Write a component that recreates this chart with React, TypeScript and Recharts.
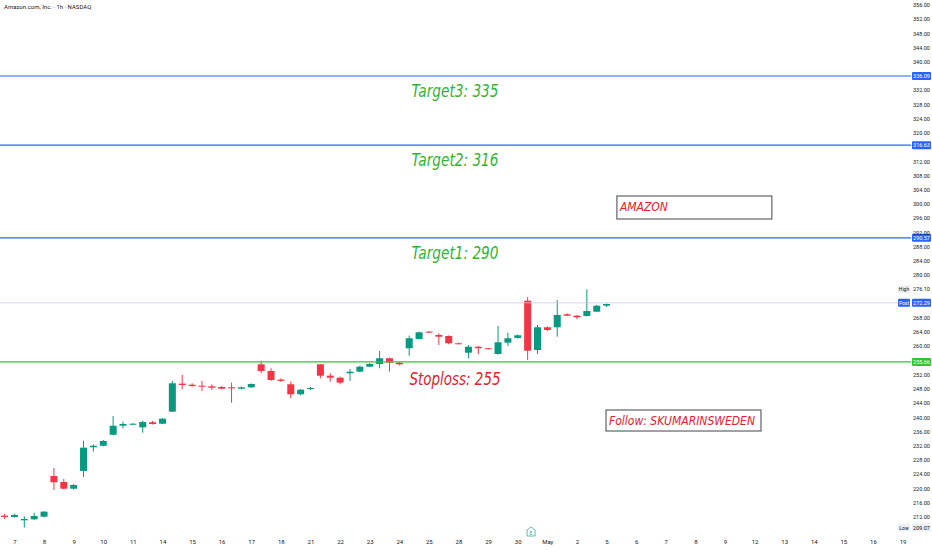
import React from 'react';
import {
  ComposedChart,
  Bar,
  XAxis,
  YAxis,
  ReferenceLine,
  ReferenceDot,
  ReferenceArea,
} from 'recharts';

// hourly candles
const opens = [
  212.41, 212.04, 211.11, 211.39, 212.13, 223.58, 221.89, 220.0, 225.0, 231.65,
  232.09, 235.17, 237.72, 238.0, 237.26, 238.69, 238.28, 241.67, 249.55, 249.26,
  248.98, 248.81, 248.61, 248.52, 248.13, 248.52, 255.0, 253.12, 250.68, 249.38,
  246.56, 248.04, 255.0, 251.79, 251.22, 252.48, 252.92, 254.33, 255.09, 256.7,
  255.46, 259.51, 262.12, 264.17, 263.24, 262.96, 260.91, 258.25, 259.93, 259.51,
  257.89, 261.08, 262.41, 272.89, 259.02, 265.41, 265.41, 269.07, 268.67, 268.58,
  269.79, 271.48,
];
const highs = [
  212.89, 213.0, 212.24, 213.25, 213.73, 225.83, 222.75, 221.32, 233.5, 232.49,
  233.7, 240.44, 238.85, 238.45, 239.14, 239.05, 239.85, 250.32, 252.0, 249.65,
  250.32, 249.35, 248.95, 249.83, 248.75, 249.6, 256.02, 253.88, 251.04, 250.12,
  248.05, 248.6, 255.09, 252.48, 251.52, 253.68, 254.6, 255.39, 258.75, 256.88,
  255.69, 263.05, 264.2, 264.4, 263.71, 263.11, 261.08, 260.43, 260.13, 259.65,
  265.77, 263.9, 263.41, 273.86, 266.05, 265.68, 273.09, 269.35, 268.85, 276.1,
  271.73, 272.1,
];
const lows = [
  211.48, 211.91, 209.07, 211.22, 211.91, 219.63, 219.83, 219.73, 223.3, 230.4,
  231.91, 234.97, 236.98, 237.85, 235.75, 238.05, 238.15, 241.58, 247.96, 248.65,
  247.48, 247.76, 247.95, 244.18, 247.95, 248.4, 252.48, 250.34, 250.05, 245.43,
  246.28, 247.75, 251.05, 250.12, 249.38, 250.32, 252.72, 254.2, 253.88, 252.92,
  254.69, 257.41, 262.02, 263.8, 260.43, 260.63, 260.63, 256.67, 257.8, 259.15,
  257.75, 260.14, 262.22, 256.2, 257.89, 264.3, 262.76, 268.55, 267.66, 268.45,
  269.64, 271.12,
];
const closes = [
  212.04, 212.61, 211.48, 212.32, 213.54, 221.81, 220.0, 221.04, 231.54, 232.09,
  233.42, 237.72, 238.2, 238.28, 238.77, 238.2, 239.7, 249.66, 249.18, 248.9,
  248.69, 248.41, 248.13, 248.33, 248.52, 249.46, 253.12, 250.59, 250.32, 246.56,
  247.86, 248.33, 251.79, 251.22, 249.83, 252.92, 254.33, 255.09, 256.7, 255.46,
  255.0, 262.32, 264.0, 264.0, 262.76, 260.91, 260.83, 259.93, 259.51, 259.45,
  261.19, 262.32, 263.16, 258.82, 265.41, 264.65, 268.87, 268.67, 268.22, 269.99,
  271.48, 271.96,
];

const dayLabels = [
  '7', '8', '9', '10', '11', '14', '15', '16', '17', '18', '21', '22', '23', '24', '25',
  '28', '29', '30', 'May', '2', '5', '6', '7', '8', '9', '12', '13', '14', '15', '16', '19',
];

const target3 = 336.09;
const target2 = 316.63;
const target1 = 290.57;
const stoploss = 255.66;
const postPrice = 272.29;
const highPrice = 276.1;
const lowPrice = 209.07;

const hiddenTicks = [256, 272, 276, 316, 336];
const priceTicks: number[] = [];
for (let v = 212; v <= 356; v += 4) if (!hiddenTicks.includes(v)) priceTicks.push(v);

const data = opens.map((o, i) => ({
  i,
  open: o,
  high: highs[i],
  low: lows[i],
  close: closes[i],
}));

const dayTicks = dayLabels.map((_, k) => 1 + 3 * k);

const UP = '#089981';
const DOWN = '#f23645';
const BLUE = '#2962ff';
const LINE_GREEN = '#36c236';
const TEXT_GREEN = '#2fb52f';
const TEXT_RED = '#e3212b';
const AXIS_FONT = "Roboto, 'Liberation Sans', sans-serif";
const NOTE_FONT = "'Liberation Sans Narrow', 'DejaVu Sans Condensed', 'Liberation Sans', sans-serif";

const Candle = (props: any) => {
  const { x, y, width, height, payload } = props;
  if (!payload) return null;
  const { open, close, high, low } = payload;
  const top = Math.min(y, y + height);
  const h = Math.abs(height);
  const k = h / (high - low);
  const color = close >= open ? UP : DOWN;
  const bodyTop = top + (high - Math.max(open, close)) * k;
  const bodyH = Math.max(1, Math.abs(close - open) * k);
  const cx = x + width / 2;
  return (
    <g>
      <line x1={cx} x2={cx} y1={top} y2={top + h} stroke={color} strokeWidth={1} />
      <rect x={x} y={bodyTop} width={width} height={bodyH} fill={color} />
    </g>
  );
};

// price tag drawn on the right scale, next to a reference line
const priceTag = (text: string, bg: string, fg: string, side?: string, sideBg?: string, sideFg?: string) =>
  (props: any) => {
    const vb = props.viewBox;
    if (!vb) return null;
    const right = vb.x + vb.width;
    const y = vb.y;
    return (
      <g>
        {side && (
          <g>
            <rect x={right - 13} y={y - 4} width={12} height={8} fill={sideBg} rx={1} />
            <text x={right - 7} y={y} fill={sideFg} fontSize={5} textAnchor="middle" dominantBaseline="central" fontFamily={AXIS_FONT}>
              {side}
            </text>
          </g>
        )}
        <rect x={right + 1} y={y - 4} width={19} height={8} fill={bg} rx={1} />
        <text x={right + 10.5} y={y} fill={fg} fontSize={5.5} textAnchor="middle" dominantBaseline="central" fontFamily={AXIS_FONT}>
          {text}
        </text>
      </g>
    );
  };

const noteText = (text: string, color: string, len: number) => (p: any) => (
  <text
    x={p.cx}
    y={p.cy}
    fill={color}
    fontSize={18}
    fontStyle="italic"
    textAnchor="middle"
    dominantBaseline="central"
    fontFamily={NOTE_FONT}
    textLength={len}
    lengthAdjust="spacingAndGlyphs"
  >
    {text}
  </text>
);

const noteBox = (text: string) => (p: any) => (
  <g>
    <rect x={p.x} y={p.y} width={p.width} height={p.height} fill="#ffffff" stroke="#6b6f76" strokeWidth={1.3} />
    <text
      x={p.x + 3}
      y={p.y + p.height / 2}
      fill={TEXT_RED}
      fontSize={12}
      fontStyle="italic"
      dominantBaseline="central"
      fontFamily={NOTE_FONT}
    >
      {text}
    </text>
  </g>
);

const EarningsIcon = (p: any) => (
  <g>
    <path
      d={`M${p.cx - 4},${p.cy - 2} L${p.cx},${p.cy - 5} L${p.cx + 4},${p.cy - 2} L${p.cx + 4},${p.cy + 4} L${p.cx - 4},${p.cy + 4} Z`}
      fill="#ffffff"
      stroke="#3fa889"
      strokeWidth={0.8}
    />
    <text x={p.cx} y={p.cy + 1} fontSize={5} fill="#3fa889" textAnchor="middle" dominantBaseline="central" fontFamily={AXIS_FONT}>
      E
    </text>
  </g>
);

const App: React.FC = () => {
  return (
    <div style={{ position: 'relative', width: 932, height: 550, background: '#ffffff' }}>
      <style>{`body{margin:0}`}</style>
      <div
        style={{
          position: 'absolute',
          left: 4,
          top: 3,
          fontSize: 6,
          fontFamily: AXIS_FONT,
          color: '#131722',
          zIndex: 2,
        }}
      >
        Amazon.com, Inc. · 1h · NASDAQ
      </div>
      <ComposedChart width={932} height={550} data={data} margin={{ top: 0, right: 0, bottom: 0, left: 0 }}>
        <XAxis
          dataKey="i"
          type="number"
          domain={[-0.507, 91.8]}
          allowDataOverflow
          ticks={dayTicks}
          interval={0}
          tickFormatter={(v: number) => dayLabels[(v - 1) / 3] ?? ''}
          height={17}
          axisLine={false}
          tickLine={false}
          tickSize={0}
          tickMargin={7}
          tick={{ fontSize: 6, fill: '#131722', fontFamily: AXIS_FONT }}
        />
        <YAxis
          orientation="right"
          type="number"
          domain={[207.54, 357.47]}
          allowDataOverflow
          ticks={priceTicks}
          interval={0}
          width={21}
          axisLine={false}
          tickLine={false}
          tickSize={0}
          tickMargin={2}
          tickFormatter={(v: number) => v.toFixed(2)}
          tick={{ fontSize: 5.5, fill: '#131722', fontFamily: AXIS_FONT }}
        />

        <ReferenceLine y={postPrice} stroke="#c9cde6" strokeWidth={0.8} label={priceTag(postPrice.toFixed(2), BLUE, '#ffffff', 'Post', BLUE, '#ffffff')} />
        <ReferenceLine y={highPrice} stroke="none" label={priceTag(highPrice.toFixed(2), '#ffffff', '#131722', 'High', '#eef0f3', '#131722')} />
        <ReferenceLine y={lowPrice} stroke="none" label={priceTag(lowPrice.toFixed(2), '#eef0f3', '#131722', 'Low', '#eef0f3', '#131722')} />
        <ReferenceLine y={target3} stroke={BLUE} strokeWidth={1.2} label={priceTag(target3.toFixed(2), BLUE, '#ffffff')} />
        <ReferenceLine y={target2} stroke={BLUE} strokeWidth={1.2} label={priceTag(target2.toFixed(2), BLUE, '#ffffff')} />
        <ReferenceLine y={target1} stroke={BLUE} strokeWidth={1.2} label={priceTag(target1.toFixed(2), BLUE, '#ffffff')} />
        <ReferenceLine y={stoploss} stroke={LINE_GREEN} strokeWidth={1.2} label={priceTag(stoploss.toFixed(2), LINE_GREEN, '#ffffff')} />

        <Bar dataKey={(d: any) => [d.low, d.high]} shape={Candle} barSize={7} isAnimationActive={false} />

        <ReferenceDot x={45.6} y={332.15} r={0} shape={noteText('Target3: 335', TEXT_GREEN, 87)} />
        <ReferenceDot x={45.6} y={312.74} r={0} shape={noteText('Target2: 316', TEXT_GREEN, 87)} />
        <ReferenceDot x={45.6} y={286.58} r={0} shape={noteText('Target1: 290', TEXT_GREEN, 87)} />
        <ReferenceDot x={45.6} y={251.14} r={0} shape={noteText('Stoploss: 255', TEXT_RED, 91)} />

        <ReferenceArea x1={62.0} x2={77.7} y1={295.87} y2={302.34} shape={noteBox('AMAZON')} />
        <ReferenceArea x1={60.9} x2={76.6} y1={236.23} y2={242.14} shape={noteBox('Follow: SKUMARINSWEDEN')} />

        <ReferenceDot x={53.3} y={207.82} r={0} shape={EarningsIcon} ifOverflow="visible" />
      </ComposedChart>
    </div>
  );
};

export default App;
